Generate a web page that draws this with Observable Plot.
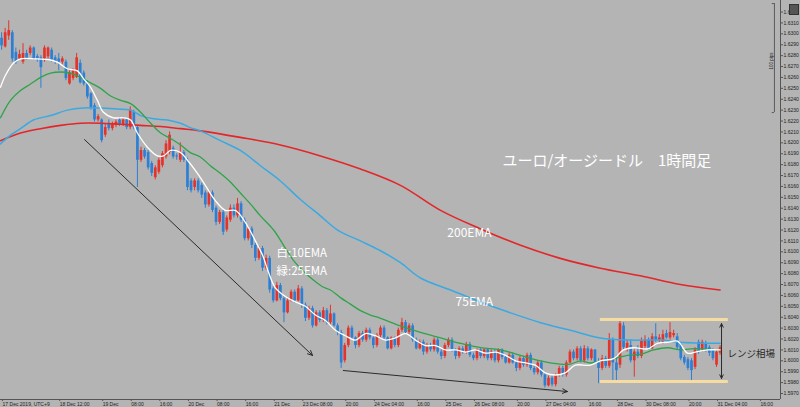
<!DOCTYPE html>
<html><head><meta charset="utf-8">
<script src="https://cdn.jsdelivr.net/npm/d3@7"></script>
<script src="https://cdn.jsdelivr.net/npm/@observablehq/plot@0.6"></script>
<style>
html,body{margin:0;padding:0;background:#b4b4b4;}
#wrap{position:relative;width:800px;height:407px;overflow:hidden;}
#icon{position:absolute;left:789px;top:4px;width:8px;height:9px;background:#555;border:1px solid #333;}
</style></head>
<body><div id="wrap"><div id="icon"></div></div>
<script>
// EUR/AUD hourly candles (17 Dec 2019 20:00 – 31 Dec 2019, UTC+9)
const opens = [1.6296,1.6288,1.6298,1.6301,1.6283,1.6277,1.6274,1.6282,1.6282,1.6287,1.6279,1.6278,1.6277,1.6279,1.6285,1.6278,1.6277,1.6274,1.6274,1.6254,
1.6259,1.6260,1.6273,1.6264,1.6254,1.6245,1.6234,1.6221,1.6221,1.6207,1.6218,1.6213,1.6216,1.6221,1.6217,1.6221,1.6214,1.6228,1.6214,1.6184,
1.6193,1.6191,1.6181,1.6168,1.6173,1.6179,1.6187,1.6191,1.6195,1.6188,1.6184,1.6191,1.6184,1.6165,1.6159,1.6165,1.6161,1.6154,1.6143,1.6154,
1.6140,1.6127,1.6136,1.6120,1.6129,1.6140,1.6133,1.6144,1.6129,1.6112,1.6121,1.6106,1.6094,1.6103,1.6085,1.6094,1.6066,1.6055,1.6069,1.6057,
1.6044,1.6055,1.6063,1.6055,1.6066,1.6051,1.6039,1.6048,1.6032,1.6044,1.6037,1.6046,1.6035,1.6043,1.6032,1.6026,1.6000,1.6014,1.6030,1.6021,
1.6014,1.6025,1.6019,1.6028,1.6021,1.6014,1.6023,1.6030,1.6021,1.6011,1.6021,1.6014,1.6028,1.6035,1.6026,1.6032,1.6019,1.6011,1.6017,1.6008,
1.6014,1.6010,1.6019,1.6008,1.6004,1.6014,1.6019,1.6010,1.6004,1.6011,1.6008,1.6015,1.6005,1.6002,1.6010,1.6004,1.6010,1.6002,1.6008,1.6000,
1.6010,1.6003,1.5998,1.6005,1.5998,1.5993,1.6002,1.5996,1.6005,1.5993,1.5989,1.5998,1.5987,1.5977,1.5984,1.5978,1.5987,1.5993,1.5987,1.5998,
1.6008,1.6002,1.6011,1.6000,1.6011,1.6002,1.6010,1.5998,1.5993,1.6002,1.5995,1.6019,1.5998,1.5996,1.6032,1.6010,1.6014,1.6000,1.6008,1.6004,
1.6013,1.6019,1.6011,1.6022,1.6019,1.6017,1.6025,1.6021,1.6023,1.6022,1.6015,1.6003,1.6001,1.6000,1.5994,1.6017,1.6010,1.6016,1.6012,1.6010,
1.5996,1.6007];
const highs = [1.6301,1.6305,1.6312,1.6303,1.6287,1.6285,1.6291,1.6285,1.6289,1.6288,1.6281,1.6280,1.6289,1.6288,1.6287,1.6280,1.6282,1.6279,1.6276,1.6266,
1.6268,1.6282,1.6276,1.6266,1.6257,1.6246,1.6236,1.6226,1.6222,1.6217,1.6221,1.6219,1.6221,1.6223,1.6223,1.6222,1.6233,1.6230,1.6216,1.6196,
1.6195,1.6193,1.6183,1.6179,1.6186,1.6192,1.6202,1.6210,1.6197,1.6190,1.6200,1.6193,1.6186,1.6167,1.6167,1.6167,1.6163,1.6156,1.6156,1.6156,
1.6142,1.6138,1.6138,1.6133,1.6143,1.6143,1.6149,1.6146,1.6131,1.6123,1.6123,1.6108,1.6105,1.6105,1.6097,1.6096,1.6068,1.6072,1.6071,1.6059,
1.6057,1.6065,1.6065,1.6069,1.6068,1.6053,1.6050,1.6050,1.6046,1.6046,1.6049,1.6048,1.6051,1.6044,1.6034,1.6028,1.6016,1.6032,1.6032,1.6022,
1.6027,1.6027,1.6030,1.6030,1.6022,1.6025,1.6032,1.6032,1.6022,1.6022,1.6022,1.6030,1.6039,1.6037,1.6034,1.6034,1.6021,1.6019,1.6019,1.6016,
1.6016,1.6021,1.6021,1.6010,1.6016,1.6021,1.6021,1.6011,1.6013,1.6013,1.6017,1.6017,1.6007,1.6011,1.6011,1.6011,1.6011,1.6010,1.6010,1.6011,
1.6011,1.6005,1.6007,1.6007,1.6000,1.6004,1.6004,1.6007,1.6007,1.5995,1.6000,1.6000,1.5988,1.5986,1.5986,1.5988,1.5995,1.5995,1.6000,1.6010,
1.6010,1.6013,1.6013,1.6014,1.6013,1.6011,1.6010,1.6002,1.6005,1.6004,1.6025,1.6021,1.6005,1.6037,1.6035,1.6019,1.6019,1.6010,1.6014,1.6021,
1.6023,1.6021,1.6025,1.6034,1.6024,1.6028,1.6028,1.6035,1.6028,1.6025,1.6017,1.6005,1.6003,1.6002,1.6012,1.6019,1.6019,1.6018,1.6014,1.6011,
1.6010,1.6014];
const lows = [1.6285,1.6287,1.6294,1.6274,1.6272,1.6276,1.6272,1.6276,1.6280,1.6276,1.6274,1.6250,1.6274,1.6277,1.6274,1.6272,1.6266,1.6272,1.6257,1.6253,
1.6257,1.6259,1.6254,1.6252,1.6240,1.6230,1.6219,1.6219,1.6200,1.6205,1.6211,1.6211,1.6214,1.6215,1.6215,1.6212,1.6212,1.6212,1.6159,1.6182,
1.6185,1.6175,1.6169,1.6166,1.6171,1.6177,1.6185,1.6189,1.6185,1.6184,1.6182,1.6182,1.6156,1.6154,1.6156,1.6154,1.6149,1.6140,1.6141,1.6136,
1.6124,1.6125,1.6115,1.6118,1.6127,1.6131,1.6131,1.6127,1.6110,1.6110,1.6103,1.6091,1.6092,1.6082,1.6083,1.6062,1.6053,1.6054,1.6055,1.6035,
1.6043,1.6054,1.6053,1.6054,1.6048,1.6036,1.6037,1.6030,1.6031,1.6035,1.6035,1.6033,1.6033,1.6031,1.6023,1.5993,1.5998,1.6012,1.6019,1.6011,
1.6012,1.6017,1.6017,1.6019,1.6011,1.6012,1.6021,1.6019,1.6010,1.6010,1.6012,1.6012,1.6026,1.6024,1.6024,1.6017,1.6010,1.6010,1.6005,1.6006,
1.6008,1.6008,1.6006,1.6001,1.6002,1.6012,1.6008,1.6001,1.6002,1.6006,1.6006,1.6003,1.6000,1.6000,1.6002,1.6002,1.6000,1.6000,1.5998,1.5998,
1.6001,1.5997,1.5997,1.5997,1.5990,1.5991,1.5994,1.5994,1.5991,1.5987,1.5987,1.5985,1.5975,1.5976,1.5976,1.5976,1.5985,1.5985,1.5985,1.5997,
1.6000,1.6000,1.5998,1.5998,1.6000,1.6000,1.5997,1.5979,1.5991,1.5993,1.5993,1.5982,1.5980,1.5993,1.6010,1.6008,1.5998,1.5985,1.6002,1.6002,
1.6010,1.6010,1.6010,1.6017,1.6016,1.6015,1.6020,1.6019,1.6021,1.6010,1.6000,1.5996,1.5991,1.5982,1.5992,1.6006,1.6008,1.6008,1.6004,1.6000,
1.5994,1.6005];
const closes = [1.6289,1.6301,1.6303,1.6277,1.6274,1.6281,1.6282,1.6277,1.6287,1.6277,1.6277,1.6269,1.6287,1.6287,1.6276,1.6274,1.6274,1.6277,1.6259,1.6264,
1.6266,1.6278,1.6255,1.6254,1.6242,1.6232,1.6221,1.6224,1.6202,1.6214,1.6213,1.6217,1.6219,1.6217,1.6221,1.6214,1.6230,1.6214,1.6184,1.6193,
1.6187,1.6177,1.6172,1.6177,1.6184,1.6190,1.6199,1.6207,1.6187,1.6187,1.6191,1.6184,1.6159,1.6156,1.6165,1.6156,1.6152,1.6143,1.6154,1.6138,
1.6127,1.6136,1.6118,1.6131,1.6140,1.6133,1.6144,1.6129,1.6112,1.6121,1.6106,1.6094,1.6103,1.6085,1.6094,1.6065,1.6055,1.6069,1.6057,1.6044,
1.6055,1.6063,1.6055,1.6066,1.6051,1.6039,1.6048,1.6032,1.6044,1.6037,1.6046,1.6035,1.6043,1.6032,1.6026,1.5998,1.6014,1.6030,1.6021,1.6014,
1.6025,1.6019,1.6028,1.6021,1.6014,1.6023,1.6030,1.6021,1.6011,1.6021,1.6014,1.6028,1.6035,1.6026,1.6032,1.6019,1.6011,1.6017,1.6008,1.6014,
1.6010,1.6019,1.6008,1.6004,1.6014,1.6019,1.6010,1.6004,1.6011,1.6008,1.6015,1.6005,1.6002,1.6010,1.6004,1.6010,1.6002,1.6008,1.6000,1.6010,
1.6003,1.5998,1.6005,1.5998,1.5993,1.6002,1.5996,1.6005,1.5993,1.5989,1.5998,1.5987,1.5977,1.5984,1.5978,1.5987,1.5993,1.5987,1.5998,1.6008,
1.6002,1.6011,1.6000,1.6011,1.6002,1.6010,1.5998,1.5993,1.6002,1.5995,1.6019,1.5998,1.5991,1.6034,1.6012,1.6016,1.6000,1.6008,1.6004,1.6018,
1.6019,1.6011,1.6022,1.6019,1.6021,1.6024,1.6021,1.6026,1.6025,1.6012,1.6002,1.5998,1.5993,1.5991,1.6010,1.6008,1.6017,1.6010,1.6007,1.6002,
1.6008,1.6012];

// Moving averages (candle index, price)
const ema10Idx = [-0.3,1.1,3.3,5.3,9.5,13.7,15.6,18.4,21.2,22.9,24.9,26.8,28.5,31.3,34.1,36.1,38.0,40.8,43.6,45.3,47.3,50.1,52.0,54.8,57.0,59.8,62.6,65.4,68.2,71.0,73.0,74.7,76.6,79.4,82.2,85.0,87.8,90.6,93.4,96.2,99.0,101.8,104.6,107.4,110.2,113.0,115.8,118.6,121.4,124.2,127.0,129.8,132.6,135.4,138.2,141.0,143.8,146.6,149.3,152.1,154.9,157.7,160.5,164.7,167.5,171.2,174.0,176.8,180.7,183.5,186.3,189.1,191.9,194.1,197.5,201];
const ema10Val = [1.6251,1.6262,1.6273,1.6277,1.6277,1.6276,1.6274,1.6268,1.6266,1.6259,1.6251,1.6239,1.6228,1.6223,1.6223,1.6221,1.6209,1.6196,1.6188,1.6188,1.6193,1.6191,1.6184,1.6172,1.6161,1.6147,1.6138,1.6138,1.6127,1.6110,1.6097,1.6081,1.6067,1.6059,1.6054,1.6050,1.6042,1.6037,1.6028,1.6023,1.6019,1.6025,1.6023,1.6019,1.6021,1.6025,1.6019,1.6014,1.6014,1.6010,1.6010,1.6008,1.6010,1.6007,1.6008,1.6005,1.6000,1.5998,1.5996,1.5989,1.5987,1.5989,1.5996,1.5996,1.6000,1.6002,1.6010,1.6012,1.6011,1.6016,1.6017,1.6018,1.6007,1.6008,1.6010,1.6010];
const ema25Idx = [-0.3,2.5,5.3,8.1,10.9,13.7,16.5,19.3,22.1,24.9,27.7,30.5,33.3,36.1,38.9,41.7,44.5,47.3,50.1,52.8,55.6,58.4,61.2,64.0,66.8,69.6,72.4,76.1,78.9,81.7,84.5,87.3,89.8,92.0,94.8,97.6,100.4,103.2,106.0,111.6,117.2,122.8,128.4,134.0,139.6,145.2,150.8,156.3,159.1,161.9,164.7,167.5,171.2,175.1,178.7,182.4,186.3,189.9,192.7,196.3,201];
const ema25Val = [1.6223,1.6239,1.6248,1.6254,1.6260,1.6264,1.6265,1.6264,1.6260,1.6255,1.6250,1.6243,1.6239,1.6236,1.6228,1.6218,1.6209,1.6204,1.6198,1.6191,1.6187,1.6179,1.6172,1.6164,1.6154,1.6144,1.6133,1.6120,1.6106,1.6092,1.6082,1.6074,1.6068,1.6065,1.6058,1.6052,1.6046,1.6042,1.6039,1.6032,1.6026,1.6021,1.6016,1.6012,1.6010,1.6005,1.6000,1.5997,1.5997,1.6000,1.5998,1.6000,1.6002,1.6005,1.6006,1.6010,1.6012,1.6010,1.6011,1.6011,1.6010];
const ema75Idx = [-0.3,2.5,5.3,8.9,13.7,18.4,22.9,27.7,32.4,36.1,38.9,42.5,46.4,50.1,52.8,55.6,61.2,66.8,72.4,78.0,83.6,89.2,94.0,100.4,106.0,111.6,117.2,125.6,134.0,142.4,150.8,159.1,167.5,175.9,185.2,189.9,201];
const ema75Val = [1.6199,1.6207,1.6213,1.6221,1.6225,1.6230,1.6232,1.6232,1.6231,1.6230,1.6225,1.6222,1.6221,1.6218,1.6214,1.6211,1.6202,1.6193,1.6179,1.6165,1.6148,1.6133,1.6120,1.6110,1.6101,1.6090,1.6076,1.6065,1.6054,1.6044,1.6035,1.6028,1.6021,1.6019,1.6019,1.6017,1.6016];
const ema200Idx = [-0.3,5.3,10.9,16.5,22.1,27.7,33.3,38.9,44.5,50.1,55.6,66.8,78.0,89.2,100.4,111.6,122.8,134.0,145.2,156.3,167.5,178.7,189.9,201];
const ema200Val = [1.6202,1.6209,1.6213,1.6216,1.6218,1.6218,1.6217,1.6216,1.6215,1.6213,1.6211,1.6205,1.6198,1.6188,1.6176,1.6161,1.6138,1.6121,1.6106,1.6094,1.6085,1.6078,1.6070,1.6065];

// Axis ticks
const xTickIdx = [0,16,28,36,44,52,60,68,76,84,96,104,116,124,132,144,152,164,172,180,192,200,212];
const xTickLabels = ["17 Dec 2019, UTC+9","18 Dec 12:00","19 Dec","08:00","16:00","20 Dec","08:00","16:00","21 Dec","23 Dec 08:00","20:00","24 Dec 04:00","16:00","25 Dec","26 Dec 08:00","20:00","27 Dec 04:00","16:00","28 Dec","30 Dec 08:00","20:00","31 Dec 04:00","16:00"];
const yTicks = [1.5970,1.5980,1.5990,1.6000,1.6010,1.6020,1.6030,1.6040,1.6050,1.6060,1.6070,1.6080,1.6090,1.6100,1.6110,1.6120,1.6130,1.6140,1.6150,1.6160,1.6170,1.6180,1.6190,1.6200,1.6210,1.6220,1.6230,1.6240,1.6250,1.6260,1.6270,1.6280,1.6290,1.6300,1.6310,1.6320];

// Annotations (candle index, price)
const labels = [
  {x:140.1, y:1.61828, t:"ユーロ/オージードル　1時間足", size:15, fill:"#ffffff"},
  {x:124.7, y:1.61168, t:"200EMA", size:12, fill:"#ffffff"},
  {x:127.0, y:1.60535, t:"75EMA", size:12, fill:"#ffffff"},
  {x:76.9, y:1.60990, t:"白:10EMA", size:11.5, fill:"#ffffff"},
  {x:76.9, y:1.60822, t:"緑:25EMA", size:11.5, fill:"#ffffff"},
  {x:203.1, y:1.60067, t:"レンジ相場", size:9.5, fill:"#2a2a2a"}
];
const trendArrows = [
  {x1:23.2, y1:1.62030, x2:87.0, y2:1.60049},
  {x1:95.6, y1:1.59911, x2:158.3, y2:1.59718},
  {x1:201.4, y1:1.60090, x2:201.4, y2:1.60342},
  {x1:201.4, y1:1.60090, x2:201.4, y2:1.59838}
];
const rangeLevels = [1.60379, 1.59810];
const rangeStart = 167.5, rangeEnd = 203.3;

const X0 = -0.3, X1 = 217.9, Y0 = 1.59645, Y1 = 1.63306;
const RED = "#e5332a", BLUE = "#2c7fd4";

const candles = opens.map((o, i) => ({i, o, h: highs[i], l: lows[i], c: closes[i]}));
const ups = candles.filter(d => d.c >= d.o);
const downs = candles.filter(d => d.c < d.o);
const mk = (idx, val) => idx.map((x, k) => ({x, y: val[k]}));

const chart = Plot.plot({
  width: 800, height: 407,
  marginLeft: 0, marginRight: 20, marginTop: 0, marginBottom: 8,
  style: {background: "#b4b4b4", color: "#1e1e1e", fontFamily: "Liberation Sans, DejaVu Sans, sans-serif", overflow: "visible"},
  x: {domain: [X0, X1], axis: null},
  y: {domain: [Y0, Y1], axis: null},
  marks: [
    Plot.ruleX(ups, {x: "i", y1: "l", y2: "h", stroke: RED, strokeWidth: 1}),
    Plot.ruleX(downs, {x: "i", y1: "l", y2: "h", stroke: BLUE, strokeWidth: 1}),
    Plot.ruleX(ups, {x: "i", y1: "o", y2: "c", stroke: RED, strokeWidth: 2.7}),
    Plot.ruleX(downs, {x: "i", y1: "o", y2: "c", stroke: BLUE, strokeWidth: 2.7}),
    Plot.line(mk(ema200Idx, ema200Val), {x: "x", y: "y", stroke: "#e3262a", strokeWidth: 1.6, curve: "catmull-rom"}),
    Plot.line(mk(ema75Idx, ema75Val), {x: "x", y: "y", stroke: "#3aa9e2", strokeWidth: 1.5, curve: "catmull-rom"}),
    Plot.line(mk(ema25Idx, ema25Val), {x: "x", y: "y", stroke: "#2ea44a", strokeWidth: 1.3, curve: "catmull-rom"}),
    Plot.line(mk(ema10Idx, ema10Val), {x: "x", y: "y", stroke: "#ffffff", strokeWidth: 1.3, curve: "catmull-rom"}),
    Plot.ruleY(rangeLevels, {x1: rangeStart, x2: rangeEnd, stroke: "#f6dba2", strokeWidth: 3}),
    Plot.arrow(trendArrows.slice(0, 2), {x1: "x1", y1: "y1", x2: "x2", y2: "y2", stroke: "#2b2b2b", strokeWidth: 1, headLength: 8, headAngle: 50}),
    Plot.arrow(trendArrows.slice(2), {x1: "x1", y1: "y1", x2: "x2", y2: "y2", stroke: "#2b2b2b", strokeWidth: 1, headLength: 6, headAngle: 50}),
    Plot.text(labels, {x: "x", y: "y", text: "t", fill: "fill", fontSize: "size", textAnchor: "start", lineHeight: 1, fontFamily: "Noto Sans CJK JP, sans-serif"}),
    // 100 pips marker
    Plot.ruleX([216.2], {y1: 1.62278, y2: 1.63278, stroke: "#444", strokeWidth: 0.8}),
    Plot.ruleY([1.62278, 1.63278], {x1: 215.6, x2: 216.2, stroke: "#444", strokeWidth: 0.8}),
    Plot.text(["100 pips"], {x: 215.4, y: 1.6275, text: d => d, rotate: -90, fontSize: 4.5, fill: "#222"}),
    // frame lines
    Plot.ruleY([Y0], {stroke: "#555", strokeWidth: 1}),
    Plot.ruleX([X1], {stroke: "#555", strokeWidth: 1}),
    Plot.axisX(xTickIdx, {anchor: "bottom", tickSize: 2, tickPadding: 1, fontSize: 5, textAnchor: "start", dx: 1,
      tickFormat: i => xTickLabels[xTickIdx.indexOf(i)], stroke: "#555"}),
    Plot.axisY(yTicks, {anchor: "right", tickSize: 2, tickPadding: 1, fontSize: 5, tickFormat: d => d.toFixed(4), stroke: "#555"})
  ]
});
document.getElementById("wrap").prepend(chart);
</script>
</body></html>
